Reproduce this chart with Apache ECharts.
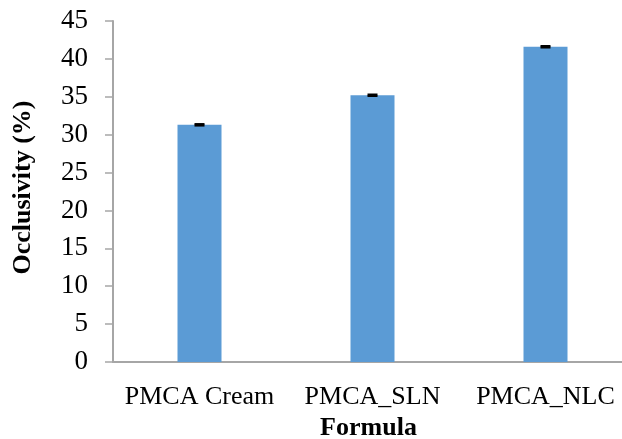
<!DOCTYPE html>
<html><head><meta charset="utf-8">
<script src="https://cdn.jsdelivr.net/npm/echarts@6/dist/echarts.min.js"></script>
<style>html,body{margin:0;padding:0;background:#fff}#c{width:622px;height:439px}</style>
</head><body><div id="c"></div>
<script>
var categories = ['PMCA Cream', 'PMCA_SLN', 'PMCA_NLC'];
var values = [31.3, 35.2, 41.6];
var errors = [0.1, 0.1, 0.1];
var yTicks = [0, 5, 10, 15, 20, 25, 30, 35, 40, 45];

var chart = echarts.init(document.getElementById('c'), null, {renderer: 'canvas'});
var font = '"Liberation Serif", "Times New Roman", serif';
chart.setOption({
  animation: false,
  grid: {left: 113, right: -10, top: 21, bottom: 77, containLabel: false, outerBoundsMode: 'none'},
  xAxis: {
    type: 'category', data: categories,
    axisLine: {lineStyle: {color: '#a6a6a6', width: 2}},
    axisTick: {show: false},
    axisLabel: {fontFamily: font, fontSize: 26, color: '#000', margin: 22, interval: 0},
    name: 'Formula', nameLocation: 'middle', nameGap: 53,
    nameTextStyle: {fontFamily: font, fontSize: 26, fontWeight: 'bold', color: '#000', padding: [0, 0, 0, -8]}
  },
  yAxis: {
    type: 'value', min: yTicks[0], max: yTicks[yTicks.length - 1], interval: 5,
    axisLine: {show: true, lineStyle: {color: '#a6a6a6', width: 2}},
    axisTick: {show: true, length: 8, lineStyle: {color: '#a6a6a6', width: 1.5}},
    splitLine: {show: false},
    axisLabel: {fontFamily: font, fontSize: 27, color: '#000', margin: 25},
    name: 'Occlusivity (%)', nameLocation: 'middle', nameGap: 77,
    nameTextStyle: {fontFamily: font, fontSize: 26, fontWeight: 'bold', color: '#000', padding: [0, 0, 0, 8]}
  },
  series: [{
    type: 'bar', data: values, barWidth: 44,
    itemStyle: {color: '#5b9bd5'}
  }, {
    type: 'custom',
    data: values.map(function (v, i) { return [i, v - errors[i], v + errors[i]]; }),
    renderItem: function (params, api) {
      var lo = api.coord([api.value(0), api.value(1)]);
      var hi = api.coord([api.value(0), api.value(2)]);
      var w = 5;
      var st = {stroke: '#000', lineWidth: 2};
      return {type: 'group', children: [
        {type: 'line', shape: {x1: hi[0], y1: hi[1], x2: lo[0], y2: lo[1]}, style: st},
        {type: 'line', shape: {x1: hi[0] - w, y1: hi[1], x2: hi[0] + w, y2: hi[1]}, style: st},
        {type: 'line', shape: {x1: lo[0] - w, y1: lo[1], x2: lo[0] + w, y2: lo[1]}, style: st}
      ]};
    },
    z: 10
  }]
});
</script></body></html>
